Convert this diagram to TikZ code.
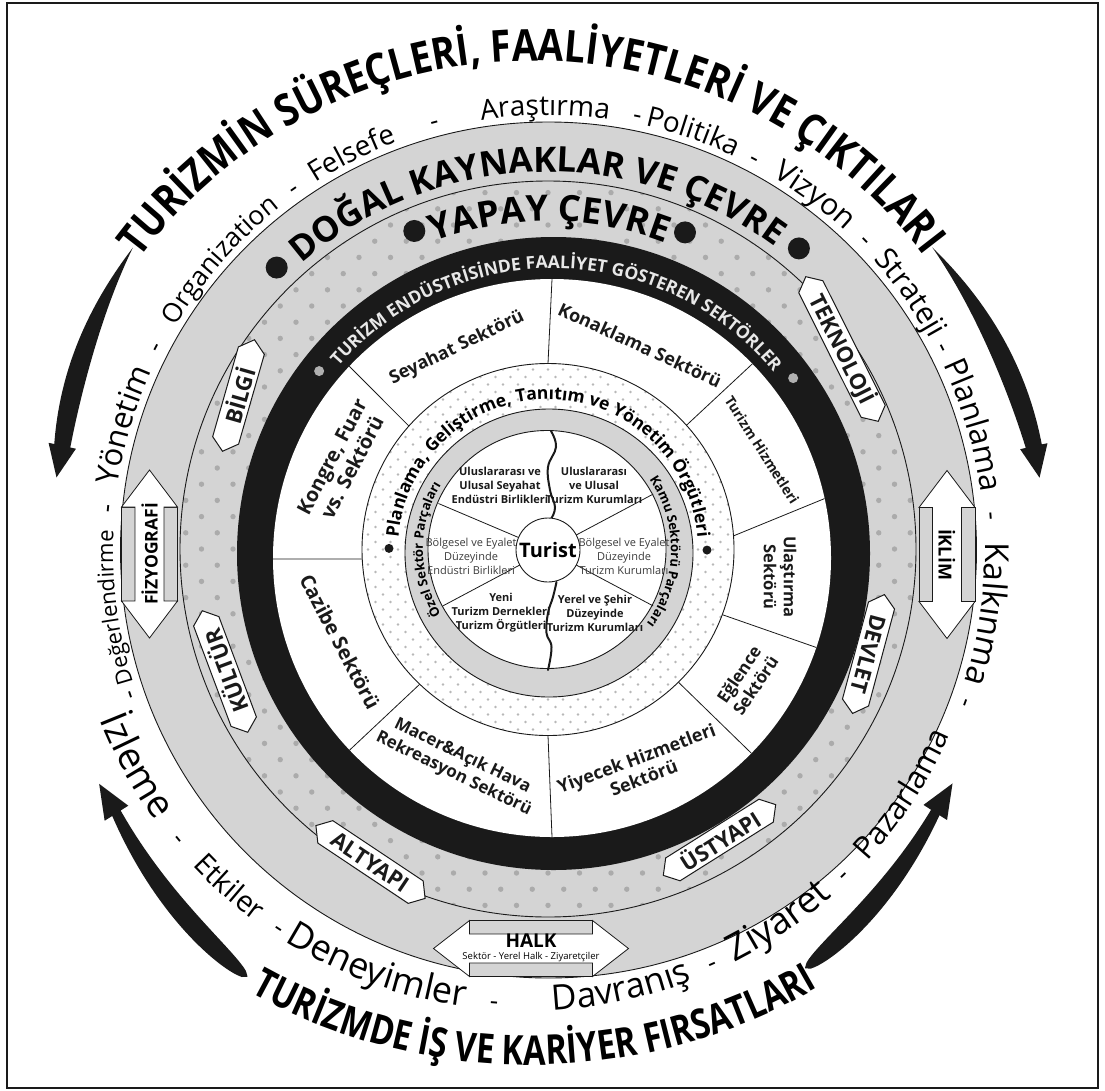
\documentclass[tikz,border=0pt]{standalone}
\usepackage{fontspec}
\setmainfont{Open Sans}
\newfontfamily\titlefont{Open Sans}[FakeStretch=0.85]
\newfontfamily\titlefontb{Open Sans}[FakeStretch=0.80]
\usetikzlibrary{decorations.text,shapes.symbols,calc}

\definecolor{ringgray}{HTML}{D4D4D4}
\definecolor{dotgray}{HTML}{ABABAB}
\definecolor{finedot}{HTML}{B8B8B8}
\definecolor{ink}{HTML}{1A1A1A}
\definecolor{paletext}{HTML}{E8E8E8}
\definecolor{bulletgray}{HTML}{B0B0B0}

\newcommand\fs[1]{\fontsize{#1}{#1}\selectfont}

% text set along a clockwise arc (letters standing outward)
\newcommand\ArcCW[6]{%
  \path[decorate,decoration={text along path,text align=center,text={|#5|#6}}]
    ($(#1)+(#3+#4:#2)$) arc[start angle=#3+#4,end angle=#3-#4,radius=#2];}
% text set along a counter-clockwise arc (letters standing inward)
\newcommand\ArcCCW[6]{%
  \path[decorate,decoration={text along path,text align=center,text={|#5|#6}}]
    ($(#1)+(#3-#4:#2)$) arc[start angle=#3-#4,end angle=#3+#4,radius=#2];}

% tapered curved arrow: centre x, centre y, tail angle, head-base angle, tip angle,
% tail radius, head radius, width profile in \u (0 at the tail, 1 at the head)
\newcommand\Swoosh[8]{%
  \fill[ink]
    plot[domain=0:1,samples=50,variable=\u]
      ({#1+(#6+(#7-#6)*\u+0.5*(#8))*cos(#3+(#4-#3)*\u)},{-#2+(#6+(#7-#6)*\u+0.5*(#8))*sin(#3+(#4-#3)*\u)})
    -- ({#1+(#7+14)*cos(#4)},{-#2+(#7+14)*sin(#4)})
    -- ({#1+#7*cos(#5)},{-#2+#7*sin(#5)})
    -- ({#1+(#7-14)*cos(#4)},{-#2+(#7-14)*sin(#4)})
    -- plot[domain=1:0,samples=50,variable=\u]
      ({#1+(#6+(#7-#6)*\u-0.5*(#8))*cos(#3+(#4-#3)*\u)},{-#2+(#6+(#7-#6)*\u-0.5*(#8))*sin(#3+(#4-#3)*\u)})
    -- cycle;}

% double-headed block arrow with grey side panels: centre, rotation, half length, head-base offset
\newcommand\DblArrow[4]{%
  \begin{scope}[shift={(#1)},rotate=#2]
    \filldraw[fill=ringgray,draw=ink,line width=0.8pt] (-28,-#4) rectangle (28,#4);
    \filldraw[fill=white,draw=ink,line width=0.8pt]
      (0,#3) -- (28,#4) -- (14.5,#4) -- (14.5,-#4) -- (28,-#4) -- (0,-#3)
      -- (-28,-#4) -- (-14.5,-#4) -- (-14.5,#4) -- (-28,#4) -- cycle;
  \end{scope}}

\tikzset{
  ringline/.style={draw=ink,line width=0.9pt},
  secline/.style={draw=ink,line width=0.8pt},
  seclabel/.style={font=\bfseries\fontsize{18}{21}\selectfont,align=center,text=ink,inner sep=0pt},
  orglabel/.style={font=\bfseries\fontsize{11}{14}\selectfont,align=center,text=ink,inner sep=0pt},
  orglight/.style={font=\fontsize{11}{14}\selectfont,align=center,text=ink!85,inner sep=0pt},
  tagbox/.style={signal,signal to=east and west,signal pointer angle=100,draw=ink,line width=1pt,
    fill=white,font=\bfseries\fontsize{22}{22}\selectfont,text=ink,inner xsep=10pt,inner ysep=1pt,minimum height=27pt},
}

\begin{document}
\begin{tikzpicture}[x=1pt,y=1pt]
\useasboundingbox (0,0) rectangle (1105,-1090);
\fill[white] (0,0) rectangle (1105,-1090);
\draw[ink,line width=1.2pt] (7,-3) rectangle (1098,-1088);

% centres of the rings and text circles
\coordinate (cU) at (549,-551);
\coordinate (cL) at (528,-551);
\coordinate (cTop) at (533,-551);
\coordinate (cBot) at (530,-491);
\coordinate (cD) at (548.5,-550);
\coordinate (cY) at (548,-549);
\coordinate (cBo) at (553.5,-553.5);
\coordinate (cBi) at (552,-558);
\coordinate (cP) at (548,-549.5);
\coordinate (cG) at (549,-553);
\coordinate (cW) at (547,-549.5);
\coordinate (cT) at (548,-550);

% natural resources ring
\fill[ringgray,ringline] (cD) circle[radius=428];
% built environment ring with dots
\fill[ringgray] (cY) circle[radius=368];
\begin{scope}
  \clip (cY) circle[radius=368];
  \foreach \j in {-23,...,23}{
    \foreach \i in {-12,...,12}{
      \fill[dotgray] ({548+\i*31.5+mod(\j,2)*15.75},{-549+\j*16.2}) circle[radius=2.7];
    }}
\end{scope}
\draw[ringline] (cY) circle[radius=368];

% black sector ring
\fill[ink] (cBo) circle[radius=316.5];
\fill[white] (cBi) circle[radius=279];

% sector dividers
\draw[secline] ($(cP)+(90:186)$) -- ($(cBi)+(90:279)$);
\draw[secline] ($(cP)+(138.4:186)$) -- ($(cBi)+(136.6:279)$);
\draw[secline] ($(cP)+(182.9:186)$) -- ($(cBi)+(180.2:279)$);
\draw[secline] ($(cP)+(226.4:186)$) -- ($(cBi)+(223.5:279)$);
\draw[secline] ($(cP)+(270:186)$) -- ($(cBi)+(270:279)$);
\draw[secline] ($(cP)+(314.5:186)$) -- ($(cBi)+(315.6:279)$);
\draw[secline] ($(cP)+(339.5:186)$) -- ($(cBi)+(341.3:279)$);
\draw[secline] ($(cP)+(4.2:186)$) -- ($(cBi)+(12.3:279)$);
\draw[secline] ($(cP)+(41.9:186)$) -- ($(cBi)+(44.1:279)$);

% planning organisations ring with fine dots
\fill[white] (cP) circle[radius=186];
\begin{scope}
  \clip (cP) circle[radius=186];
  \foreach \j in {-25,...,25}{
    \foreach \i in {-13,...,13}{
      \fill[finedot] ({548+\i*15+mod(\j,2)*7.5},{-549.5+\j*7.5}) circle[radius=1.4];
    }}
\end{scope}
\draw[ringline] (cP) circle[radius=186];

% public / private ring and the tourist core
\fill[ringgray,ringline] (cG) circle[radius=144];
\fill[white,ringline] (cW) circle[radius=119];
\draw[secline] ($(cT)+(157:32)$) -- ($(cT)+(157:119)$);
\draw[secline] ($(cT)+(208:32)$) -- ($(cT)+(208:119)$);
\draw[secline] ($(cT)+(28:32)$) -- ($(cT)+(28:119)$);
\draw[secline] ($(cT)+(332:32)$) -- ($(cT)+(332:119)$);
\draw[ink,line width=2pt,line cap=round] plot[smooth,tension=0.7] coordinates
  {(551,-431) (556,-447) (548,-467) (550,-490) (555,-507) (551.5,-518)};
\draw[ink,line width=2pt,line cap=round] plot[smooth,tension=0.7] coordinates
  {(556.5,-582) (553,-597) (548,-613) (546.5,-633) (551.5,-647) (548,-670)};
\node[circle,draw=ink,line width=0.9pt,fill=white,minimum size=64pt,inner sep=0pt,
      font=\bfseries\fs{20}] (turist) at (cT) {Turist};

% organisation labels
\node[orglabel] (o1) at (500,-485) {Uluslararası ve\\Ulusal Seyahat\\Endüstri Birlikleri};
\node[orglabel] (o2) at (594,-485) {Uluslararası\\ve Ulusal\\Turizm Kurumları};
\node[orglight] (o3) at (471,-556) {Bölgesel ve Eyalet\\Düzeyinde\\Endüstri Birlikleri};
\node[orglight] (o4) at (624,-556) {Bölgesel ve Eyalet\\Düzeyinde\\Turizm Kurumları};
\node[orglabel] (o5) at (501,-613) {Yeni\\Turizm Dernekleri\\Turizm Örgütleri};
\node[orglabel] (o6) at (595,-613) {Yerel ve Şehir\\Düzeyinde\\Turizm Kurumları};

% curved ring captions
\ArcCW{cW}{124}{180}{45}{\bfseries\fs{13}}{Özel Sektör Parçaları}
\ArcCW{cW}{124}{-1}{45}{\bfseries\fs{13}}{Kamu Sektörü Parçaları}
\ArcCW{cP}{150}{90}{95}{\bfseries\fs{17.5}}{Planlama, Geliştirme, Tanıtım ve Yönetim Örgütleri}
\fill[ink] ($(cP)+(179.6:159)$) circle[radius=4.5];
\fill[ink] ($(cP)+(-0.2:159)$) circle[radius=4.5];

\ArcCW{cBo}{285}{89.2}{70}{\color{paletext}\bfseries\fs{17.5}}{TURİZM ENDÜSTRİSİNDE FAALİYET GÖSTEREN SEKTÖRLER}
\fill[bulletgray] ($(cBo)+(142.1:297)$) circle[radius=5];
\fill[bulletgray] ($(cBo)+(36.2:297)$) circle[radius=5];

\ArcCW{cY}{328}{89.7}{40}{\bfseries\fs{36}}{YAPAY ÇEVRE}
\fill[ink] ($(cY)+(112.8:345)$) circle[radius=11];
\fill[ink] ($(cY)+(66.6:345)$) circle[radius=11];

\ArcCW{cD}{378}{92}{60}{\bfseries\fs{35}}{DOĞAL KAYNAKLAR VE ÇEVRE}
\fill[ink] ($(cD)+(133.9:392)$) circle[radius=11];
\fill[ink] ($(cD)+(50.3:392)$) circle[radius=11];

% industry sectors
\node[seclabel,rotate=25.8] (seyahat) at (457,-348) {Seyahat Sektörü};
\node[seclabel,rotate=-24.6] (konak) at (640,-345) {Konaklama Sektörü};
\node[seclabel,rotate=-57.4,font=\bfseries\fs{14}] (hizmet) at (762,-450) {Turizm Hizmetleri};
\node[seclabel,rotate=-90,font=\bfseries\fontsize{16.5}{20}\selectfont] (ulas) at (780,-577) {Ulaştırma\\Sektörü};
\node[seclabel,rotate=56,font=\bfseries\fontsize{17}{20}\selectfont] (eglence) at (747,-680) {Eğlence\\Sektörü};
\node[seclabel,rotate=20.6] (yiyecek) at (640,-768) {Yiyecek Hizmetleri\\Sektörü};
\node[seclabel,rotate=-25.9,font=\bfseries\fontsize{17}{20}\selectfont] (macera) at (458,-765) {Macer\&Açık Hava\\Rekreasyon Sektörü};
\node[seclabel,rotate=-62.3,font=\bfseries\fontsize{20}{23}\selectfont] (cazibe) at (340,-642) {Cazibe Sektörü};
\node[seclabel,rotate=62.3,font=\bfseries\fontsize{20}{23}\selectfont] (kongre) at (342,-462) {Kongre, Fuar\\vs. Sektörü};

% environment tags
\node[tagbox,rotate=74,minimum width=116pt] (bilgi) at (238.5,-395.5) {BİLGİ};
\node[tagbox,rotate=110.5] (kultur) at (225,-671.5) {KÜLTÜR};
\node[tagbox,rotate=-33.7] (altyapi) at (370.5,-862) {ALTYAPI};
\node[tagbox,rotate=32.2] (ustyapi) at (719.5,-840) {ÜSTYAPI};
\node[tagbox,rotate=-63.4] (tekno) at (842,-349) {TEKNOLOJİ};
\node[tagbox,rotate=-105] (devlet) at (868.5,-654) {DEVLET};

% double arrows in the outer ring
\coordinate (fizc) at (149.5,-554);
\coordinate (iklc) at (947,-554.5);
\coordinate (halkc) at (531,-948.5);
\DblArrow{fizc}{0}{84}{47}
\DblArrow{iklc}{0}{84}{47}
\DblArrow{halkc}{90}{97.5}{61.5}
\node[rotate=90,font=\bfseries\fs{17.5},inner sep=0pt] (fiz) at (fizc) {FİZYOGRAFİ};
\node[rotate=-90,font=\bfseries\fs{18},inner sep=0pt] (ikl) at (iklc) {İKLİM};
\node[anchor=base,font=\bfseries\fs{19},inner sep=0pt] (halk) at (531,-947) {HALK};
\node[anchor=base,font=\fs{9.5},inner sep=0pt] (halksub) at (531,-959) {Sektör - Yerel Halk - Ziyaretçiler};

% outer titles
\ArcCW{cTop}{490}{90.2}{75}{\titlefont\bfseries\fs{44}}{TURİZMİN SÜREÇLERİ, FAALİYETLERİ VE ÇIKTILARI}
\ArcCCW{cBot}{574}{270.5}{40}{\titlefontb\bfseries\fs{41}}{TURİZMDE İŞ VE KARİYER FIRSATLARI}

% process words, upper half
\ArcCW{cU}{436}{199}{8}{\fs{26}}{-}
\ArcCW{cU}{436}{187.4}{25}{\fs{22}}{Değerlendirme}
\ArcCW{cU}{436}{174.5}{8}{\fs{26}}{-}
\ArcCW{cU}{436}{163.5}{25}{\fs{31}}{Yönetim}
\ArcCW{cU}{436}{152.6}{8}{\fs{26}}{-}
\ArcCW{cU}{436}{138.5}{25}{\fs{26.5}}{Organization}
\ArcCW{cU}{436}{125.2}{8}{\fs{26}}{-}
\ArcCW{cU}{436}{116.4}{25}{\fs{28}}{Felsefe}
\ArcCW{cU}{436}{105}{8}{\fs{26}}{-}
\ArcCW{cU}{436}{90.5}{25}{\fs{28}}{Araştırma}
\ArcCW{cU}{436}{78.5}{8}{\fs{26}}{-}
\ArcCW{cU}{436}{71}{25}{\fs{28}}{Politika}
\ArcCW{cU}{436}{62.3}{8}{\fs{26}}{-}
\ArcCW{cU}{436}{53.2}{25}{\fs{30}}{Vizyon}
\ArcCW{cU}{436}{44.5}{8}{\fs{26}}{-}
\ArcCW{cU}{436}{35.5}{25}{\fs{30}}{Strateji}
\ArcCW{cU}{436}{27.3}{8}{\fs{26}}{-}
\ArcCW{cU}{436}{16.5}{25}{\fs{31}}{Planlama}
\ArcCW{cU}{436}{4.5}{8}{\fs{26}}{-}
\ArcCW{cU}{436}{-8.2}{25}{\fs{33}}{Kalkınma}
\ArcCW{cU}{436}{-20}{8}{\fs{26}}{-}

% process words, lower half
\ArcCCW{cL}{460}{208.7}{25}{\fs{38}}{İzleme}
\ArcCCW{cL}{460}{219.5}{8}{\fs{26}}{-}
\ArcCCW{cL}{460}{228.4}{25}{\fs{29}}{Etkiler}
\ArcCCW{cL}{460}{236.6}{8}{\fs{26}}{-}
\ArcCCW{cL}{460}{250.1}{30}{\fs{36}}{Deneyimler}
\ArcCCW{cL}{460}{265.7}{8}{\fs{26}}{-}
\ArcCCW{cL}{460}{282}{25}{\fs{35}}{Davranış}
\ArcCCW{cL}{460}{294}{8}{\fs{26}}{-}
\ArcCCW{cL}{460}{304.1}{25}{\fs{37}}{Ziyaret}
\ArcCCW{cL}{460}{314.2}{8}{\fs{26}}{-}
\ArcCCW{cL}{460}{327}{25}{\fs{31}}{Pazarlama}

% curved arrows
\Swoosh{549}{551}{143.9}{167.8}{171.5}{515}{498}{20*sin(125*\u)}
\Swoosh{549}{551}{38.4}{12.2}{8.5}{489}{496}{20*sin(125*\u)}
\Swoosh{528}{551}{236.6}{212.5}{208.5}{510}{488}{20*sin(150*sqrt(\u))}
\Swoosh{528}{551}{303.6}{327.3}{331.3}{501}{484}{20*sin(150*sqrt(\u))}
\end{tikzpicture}
\end{document}
